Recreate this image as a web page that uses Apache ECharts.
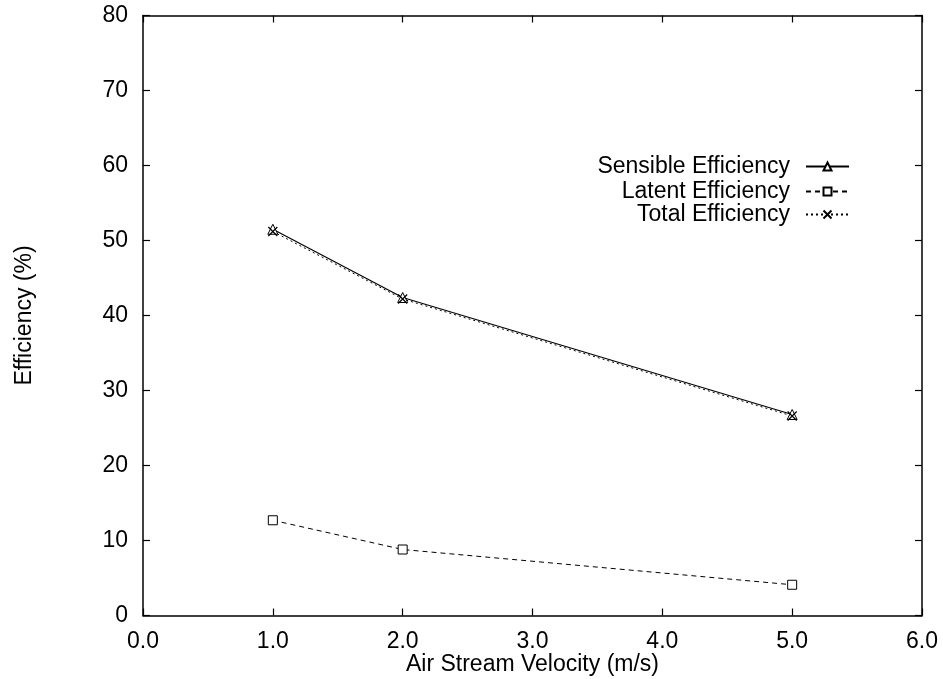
<!DOCTYPE html>
<html>
<head>
<meta charset="utf-8">
<script src="https://cdn.jsdelivr.net/npm/echarts@6/dist/echarts.min.js"></script>
<style>html,body{margin:0;padding:0;background:#fff;}#c{width:943px;height:679px;}</style>
</head>
<body>
<div id="c"></div>
<script>
const velocity = [1.0, 2.0, 5.0];
const sensible = [51.5, 42.4, 26.8];
const latent = [12.7, 8.8, 4.1];
const total = [51.2, 42.2, 26.6];
const seriesNames = ['Sensible Efficiency', 'Latent Efficiency', 'Total Efficiency'];

const FONT = 'Liberation Sans';
const INK = '#000';
const pairs = (ys) => velocity.map((x, i) => [x, ys[i]]);

function tick() {
  return { show: true, inside: true, length: 7, lineStyle: { color: INK, width: 1.2 } };
}
const axisLine = { show: true, onZero: false, lineStyle: { color: INK, width: 1.5 } };

const legendTops = [155, 180, 203];
const legends = seriesNames.map((n, i) => ({
  data: [n],
  right: 93,
  top: legendTops[i],
  padding: 0,
  orient: 'vertical',
  align: 'right',
  itemWidth: 43,
  itemHeight: 10,
  selectedMode: false,
  textStyle: { fontFamily: FONT, fontSize: 23, color: INK, padding: [0, 11, 0, 0] }
}));

const option = {
  animation: false,
  backgroundColor: '#fff',
  grid: { left: 143, right: 21, top: 15.5, bottom: 63.5, outerBoundsMode: 'none' },
  legend: legends,
  xAxis: [
    {
      type: 'value', min: 0, max: 6, interval: 1, position: 'bottom',
      axisLine: axisLine, axisTick: tick(), splitLine: { show: false },
      name: 'Air Stream Velocity (m/s)',
      nameLocation: 'middle',
      nameGap: 38,
      nameMoveOverlap: false,
      nameTextStyle: { fontFamily: FONT, fontSize: 23, color: INK },
      axisLabel: { fontFamily: FONT, fontSize: 23, color: INK, margin: 15, formatter: v => v.toFixed(1) }
    },
    {
      type: 'value', min: 0, max: 6, interval: 1, position: 'top',
      axisLine: axisLine, axisTick: tick(), splitLine: { show: false },
      axisLabel: { show: false }
    }
  ],
  yAxis: [
    {
      type: 'value', min: 0, max: 80, interval: 10, position: 'left',
      axisLine: axisLine, axisTick: tick(), splitLine: { show: false },
      name: 'Efficiency (%)',
      nameLocation: 'middle',
      nameGap: 107,
      nameMoveOverlap: false,
      nameTextStyle: { fontFamily: FONT, fontSize: 23, color: INK },
      axisLabel: { fontFamily: FONT, fontSize: 23, color: INK, margin: 15 }
    },
    {
      type: 'value', min: 0, max: 80, interval: 10, position: 'right',
      axisLine: axisLine, axisTick: tick(), splitLine: { show: false },
      axisLabel: { show: false }
    }
  ],
  series: [
    {
      name: seriesNames[0], type: 'line', data: pairs(sensible),
      symbol: 'triangle', symbolSize: 10,
      itemStyle: { color: '#fff', borderColor: INK, borderWidth: 1 },
      lineStyle: { color: INK, width: 1.2, type: 'solid' }
    },
    {
      name: seriesNames[1], type: 'line', data: pairs(latent),
      symbol: 'rect', symbolSize: 9,
      itemStyle: { color: '#fff', borderColor: INK, borderWidth: 1 },
      lineStyle: { color: INK, width: 1, type: [5, 4] }
    },
    {
      name: seriesNames[2], type: 'line', data: pairs(total),
      symbol: 'path://M0,0L10,10M10,0L0,10', symbolSize: 9, symbolKeepAspect: true,
      itemStyle: { color: 'none', borderColor: INK, borderWidth: 1.2 },
      lineStyle: { color: INK, width: 1, type: [2, 3] }
    }
  ]
};

const chart = echarts.init(document.getElementById('c'));
chart.setOption(option);
</script>
</body>
</html>
